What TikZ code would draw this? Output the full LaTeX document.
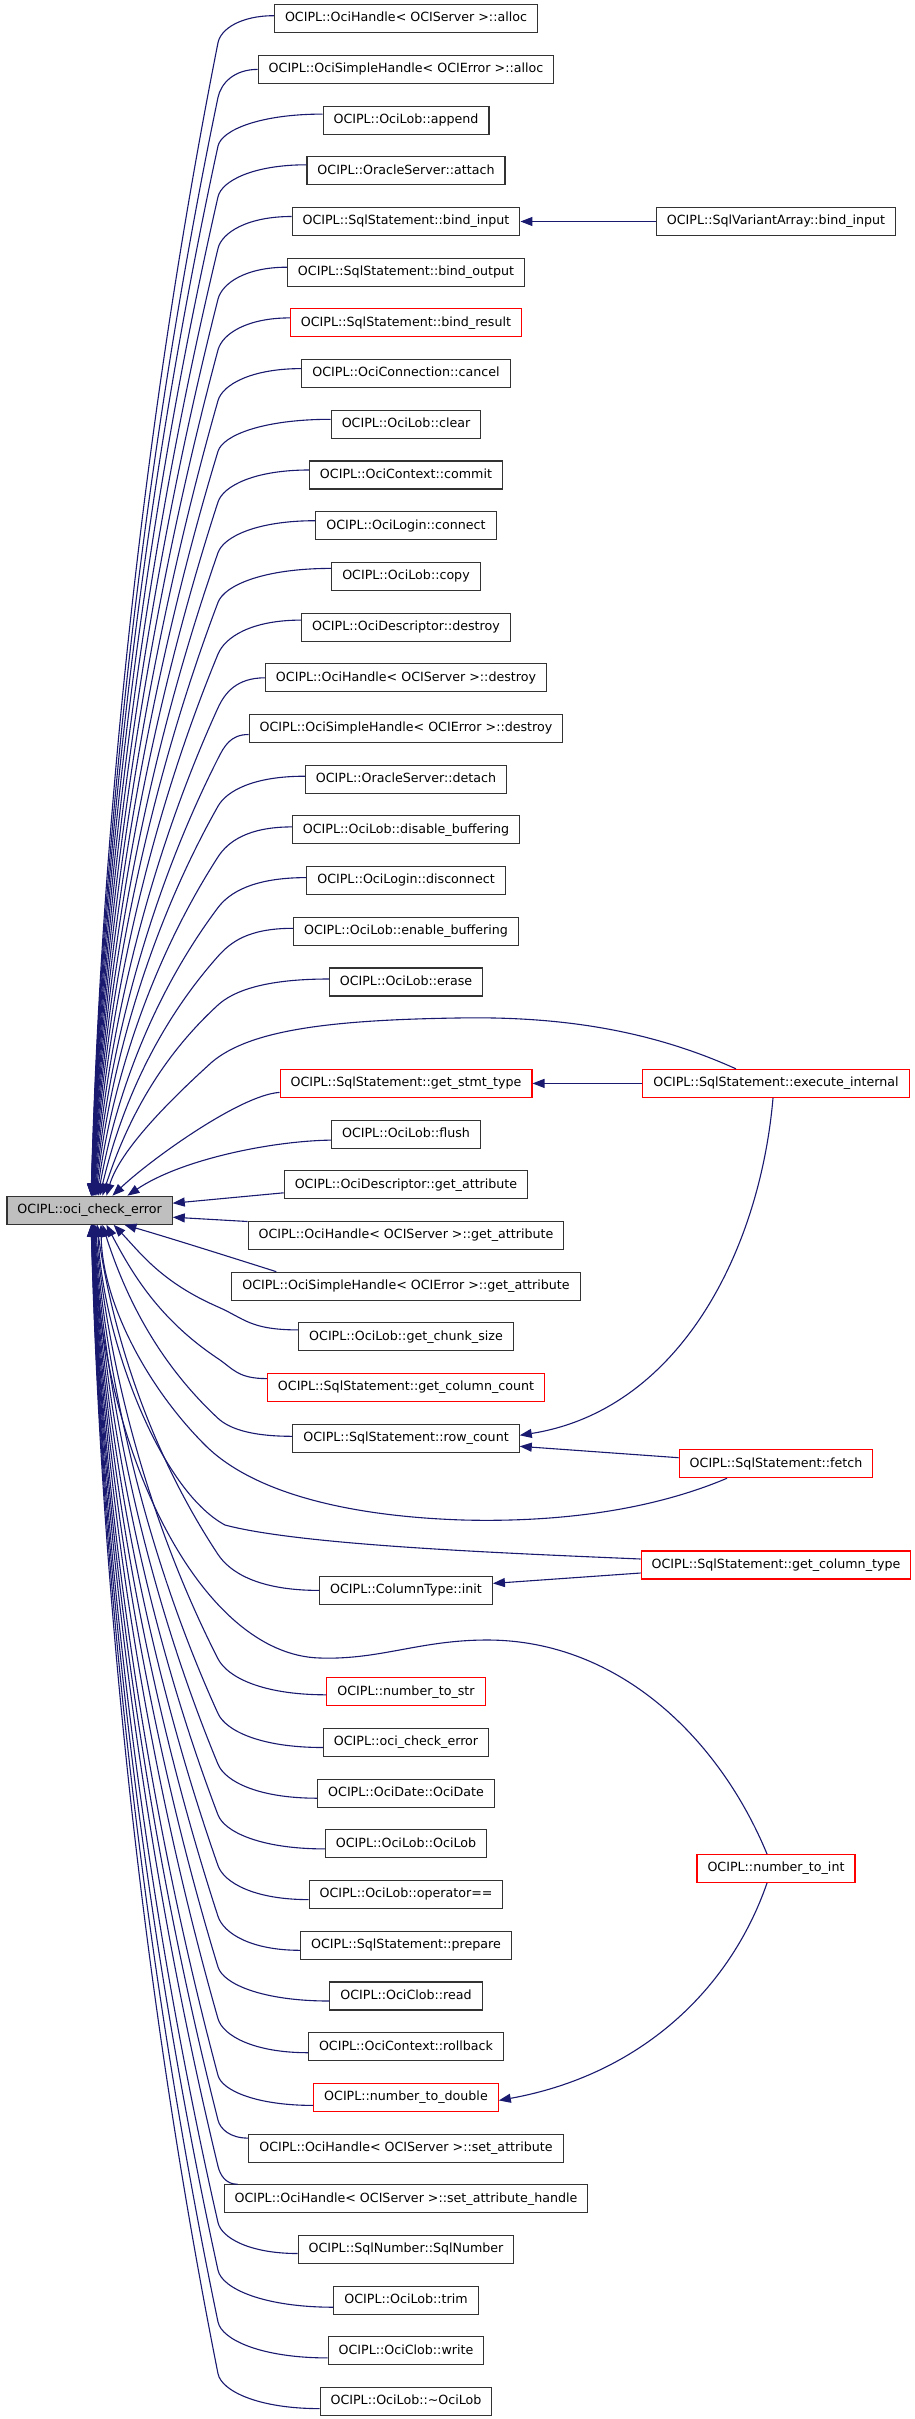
\documentclass[tikz,border=0pt]{standalone}
\usepackage{fontspec}
\setmainfont{DejaVu Sans}
\usetikzlibrary{arrows.meta,calc}
\definecolor{edgeblue}{HTML}{191970}
\definecolor{boxgray}{HTML}{BFBFBF}
\tikzset{
  fn/.style={draw=black!80, line width=1.1pt, fill=white, inner xsep=10.5pt, inner ysep=0pt,
    minimum height=28pt, text height=9.6pt, text depth=3pt, font=\fontsize{12.65}{15}\selectfont},
  fnred/.style={fn, draw=red},
  fnmain/.style={fn, fill=boxgray},
  edge/.style={draw=edgeblue, line width=1.1pt, -{Triangle[length=12pt,width=9pt]}, fill=none}
}
% #1 start point, #2 signed vertical offset of turn point, #3 rows to main, #4 main anchor
\newcommand\ledge[4]{\draw[edge] let \p1=(#1), \n1={88+63/(#3)}, \n6={#2}, \p2=(218,{\y1+\n6}),
  \n7={\n1-6}, \p3=([xshift=\n7]main.#4), \n2={abs(\y2-\y3)}, \n3={0.25+0.75*exp(-\n2/200)},
  \n4={0.54*(\x3-\x2)/(0.3*(\y3-\y2))}, \n5={(\y2-\y1)/2} in
  (#1) .. controls ({\x1-0.6*(\x1-\x2)},\y1) and ({\x2-\n4*\n5},{\y2-\n5}) .. (\p2)
  .. controls ({\x2+0.54*(\x3-\x2)},{\y2+0.3*(\y3-\y2)}) and ({\x3+\n3*0.35*(\x2-\x3)},{\y3+0.35*(\y2-\y3)}) .. (\p3);}
\begin{document}
\begin{tikzpicture}[x=1pt,y=1pt]
\fill[white] (0,0) rectangle (915,-2419);
\useasboundingbox (0,0) rectangle (915,-2419);
% main node
\node[fnmain] (main) at (89.6,-1210.2) {OCIPL::oci\_check\_error};
% left column
\def\cx{406}
\node[fn] (n0) at (\cx,-18.7) {OCIPL::OciHandle< OCIServer >::alloc};
\node[fn] (n1) at (\cx,-69.4) {OCIPL::OciSimpleHandle< OCIError >::alloc};
\node[fn] (n2) at (\cx,-120.1) {OCIPL::OciLob::append};
\node[fn] (n3) at (\cx,-170.8) {OCIPL::OracleServer::attach};
\node[fn] (n4) at (\cx,-221.5) {OCIPL::SqlStatement::bind\_input};
\node[fn] (n5) at (\cx,-272.2) {OCIPL::SqlStatement::bind\_output};
\node[fnred] (n6) at (\cx,-322.9) {OCIPL::SqlStatement::bind\_result};
\node[fn] (n7) at (\cx,-373.6) {OCIPL::OciConnection::cancel};
\node[fn] (n8) at (\cx,-424.3) {OCIPL::OciLob::clear};
\node[fn] (n9) at (\cx,-475.0) {OCIPL::OciContext::commit};
\node[fn] (n10) at (\cx,-525.7) {OCIPL::OciLogin::connect};
\node[fn] (n11) at (\cx,-576.4) {OCIPL::OciLob::copy};
\node[fn] (n12) at (\cx,-627.1) {OCIPL::OciDescriptor::destroy};
\node[fn] (n13) at (\cx,-677.8) {OCIPL::OciHandle< OCIServer >::destroy};
\node[fn] (n14) at (\cx,-728.5) {OCIPL::OciSimpleHandle< OCIError >::destroy};
\node[fn] (n15) at (\cx,-779.2) {OCIPL::OracleServer::detach};
\node[fn] (n16) at (\cx,-829.9) {OCIPL::OciLob::disable\_buffering};
\node[fn] (n17) at (\cx,-880.6) {OCIPL::OciLogin::disconnect};
\node[fn] (n18) at (\cx,-931.3) {OCIPL::OciLob::enable\_buffering};
\node[fn] (n19) at (\cx,-982.0) {OCIPL::OciLob::erase};
\node[fnred] (n21) at (\cx,-1083.4) {OCIPL::SqlStatement::get\_stmt\_type};
\node[fn] (n22) at (\cx,-1134.1) {OCIPL::OciLob::flush};
\node[fn] (n23) at (\cx,-1184.8) {OCIPL::OciDescriptor::get\_attribute};
\node[fn] (n24) at (\cx,-1235.5) {OCIPL::OciHandle< OCIServer >::get\_attribute};
\node[fn] (n25) at (\cx,-1286.2) {OCIPL::OciSimpleHandle< OCIError >::get\_attribute};
\node[fn] (n26) at (\cx,-1336.9) {OCIPL::OciLob::get\_chunk\_size};
\node[fnred] (n27) at (\cx,-1387.6) {OCIPL::SqlStatement::get\_column\_count};
\node[fn] (n28) at (\cx,-1438.3) {OCIPL::SqlStatement::row\_count};
\node[fn] (n31) at (\cx,-1590.4) {OCIPL::ColumnType::init};
\node[fnred] (n33) at (\cx,-1691.8) {OCIPL::number\_to\_str};
\node[fn] (n34) at (\cx,-1742.5) {OCIPL::oci\_check\_error};
\node[fn] (n35) at (\cx,-1793.2) {OCIPL::OciDate::OciDate};
\node[fn] (n36) at (\cx,-1843.9) {OCIPL::OciLob::OciLob};
\node[fn] (n37) at (\cx,-1894.6) {OCIPL::OciLob::operator==};
\node[fn] (n38) at (\cx,-1945.3) {OCIPL::SqlStatement::prepare};
\node[fn] (n39) at (\cx,-1996.0) {OCIPL::OciClob::read};
\node[fn] (n40) at (\cx,-2046.7) {OCIPL::OciContext::rollback};
\node[fnred] (n41) at (\cx,-2097.4) {OCIPL::number\_to\_double};
\node[fn] (n42) at (\cx,-2148.1) {OCIPL::OciHandle< OCIServer >::set\_attribute};
\node[fn] (n43) at (\cx,-2198.8) {OCIPL::OciHandle< OCIServer >::set\_attribute\_handle};
\node[fn] (n44) at (\cx,-2249.5) {OCIPL::SqlNumber::SqlNumber};
\node[fn] (n45) at (\cx,-2300.2) {OCIPL::OciLob::trim};
\node[fn] (n46) at (\cx,-2350.9) {OCIPL::OciClob::write};
\node[fn] (n47) at (\cx,-2401.6) {OCIPL::OciLob::\textasciitilde OciLob};
% right column
\def\rx{776}
\node[fn] (r4) at (\rx,-221.5) {OCIPL::SqlVariantArray::bind\_input};
\node[fnred] (r21) at (\rx,-1083.4) {OCIPL::SqlStatement::execute\_internal};
\node[fnred] (r28) at (\rx,-1463.7) {OCIPL::SqlStatement::fetch};
\node[fnred] (r30) at (\rx,-1565.0) {OCIPL::SqlStatement::get\_column\_type};
\node[fnred] (r36) at (\rx,-1868.5) {OCIPL::number\_to\_int};
% edges to main from above
\ledge{[yshift=3]n0.west}{-27}{23.5}{north west}
\ledge{[yshift=0]n1.west}{-28}{22.5}{north west}
\ledge{[yshift=6]n2.west}{-32}{21.5}{north west}
\ledge{[yshift=6]n3.west}{-32}{20.5}{north west}
\ledge{[yshift=5]n4.west}{-32}{19.5}{north west}
\ledge{[yshift=5]n5.west}{-32}{18.5}{north west}
\ledge{[yshift=5]n6.west}{-32}{17.5}{north west}
\ledge{[yshift=5]n7.west}{-32}{16.5}{north west}
\ledge{[yshift=5]n8.west}{-32}{15.5}{north west}
\ledge{[yshift=5]n9.west}{-32}{14.5}{north west}
\ledge{[yshift=5]n10.west}{-32}{13.5}{north west}
\ledge{[yshift=8]n11.west}{-34}{12.5}{north west}
\ledge{[yshift=7]n12.west}{-34}{11.5}{north west}
\ledge{[yshift=0]n13.west}{-30}{10.5}{north west}
\ledge{[yshift=-6]n14.west}{-24}{9.5}{north west}
\ledge{[yshift=3]n15.west}{-30}{8.5}{north west}
\ledge{[yshift=3]n16.west}{-30}{7.5}{north west}
\ledge{[yshift=3]n17.west}{-30}{6.5}{north west}
\ledge{[yshift=3]n18.west}{-28}{5.5}{north west}
\ledge{[yshift=3]n19.west}{-26}{4.5}{north west}
\draw[edge] ([yshift=-9]n21.west) .. controls (240,-1095) and (150,-1160) .. ([xshift=106]main.north west);
\draw[edge] ([yshift=-6]n22.west) .. controls (270,-1141) and (180,-1160) .. ([xshift=121]main.north west);
% side edges
\draw[edge] ([yshift=-8]n23.west) -- ([yshift=7]main.east);
\draw[edge] ([yshift=14]n24.west) -- ([yshift=-7]main.east);
% edges to main from below
\draw[edge] ([xshift=45]n25.north west) .. controls (230,-1257) and (170,-1238) .. ([xshift=118]main.south west);
\ledge{[yshift=7]n26.west}{23}{2.5}{south west}
\ledge{[yshift=9]n27.west}{20}{3.5}{south west}
\ledge{[yshift=2]n28.west}{18}{4.5}{south west}
\ledge{[yshift=0]n31.west}{36}{7.5}{south west}
\ledge{[yshift=-3]n33.west}{36}{9.5}{south west}
\ledge{[yshift=-5]n34.west}{34}{10.5}{south west}
\ledge{[yshift=-5]n35.west}{34}{11.5}{south west}
\ledge{[yshift=-5]n36.west}{34}{12.5}{south west}
\ledge{[yshift=-5]n37.west}{34}{13.5}{south west}
\ledge{[yshift=-5]n38.west}{34}{14.5}{south west}
\ledge{[yshift=-5]n39.west}{34}{15.5}{south west}
\ledge{[yshift=-6]n40.west}{34}{16.5}{south west}
\ledge{[yshift=-8]n41.west}{30}{17.5}{south west}
\ledge{[yshift=10]n42.west}{18}{18.5}{south west}
\ledge{[xshift=14]n43.north west}{18}{19.5}{south west}
\ledge{[yshift=-4]n44.west}{31}{20.5}{south west}
\ledge{[yshift=-7]n45.west}{37}{21.5}{south west}
\ledge{[yshift=-7]n46.west}{36}{22.5}{south west}
\ledge{[yshift=-7]n47.west}{35}{23.5}{south west}
% right-side callers
\draw[edge] (r4.west) -- (n4.east);
\draw[edge] (r21.west) -- (n21.east);
\draw[edge] ([xshift=-40]r21.north) .. controls (650,-1030) and (560,-1016) .. (457,-1018)
  .. controls (330,-1020) and (250,-1030) .. (212,-1062)
  .. controls (170,-1100) and (120,-1150) .. ([xshift=100]main.north west);
\draw[edge] ([xshift=-3]r21.south) .. controls (760,-1250) and (680,-1410) .. ([yshift=3]n28.east);
\draw[edge] ([yshift=6]r28.west) -- ([yshift=-8]n28.east);
\draw[edge] ([xshift=-49]r28.south) .. controls (640,-1515) and (540,-1522) .. (463,-1520)
  .. controls (340,-1516) and (250,-1490) .. (205,-1445)
  .. controls (145,-1385) and (102,-1300) .. ([xshift=94.6]main.south west);
\draw[edge] ([yshift=6]r30.west) .. controls (500,-1553) and (300,-1545) .. (225,-1525)
  .. controls (160,-1490) and (103,-1340) .. ([xshift=91]main.south west);
\draw[edge] ([yshift=-8]r30.west) -- ([yshift=7]n31.east);
\draw[edge] ([xshift=-9]r36.north) .. controls (720,-1740) and (620,-1640) .. (487,-1640)
  .. controls (420,-1640) and (380,-1660) .. (320,-1658)
  .. controls (200,-1655) and (100,-1450) .. ([xshift=87]main.south west);
\draw[edge] ([xshift=-9]r36.south) .. controls (730,-1990) and (640,-2075) .. ([yshift=-3]n41.east);
\end{tikzpicture}
\end{document}
